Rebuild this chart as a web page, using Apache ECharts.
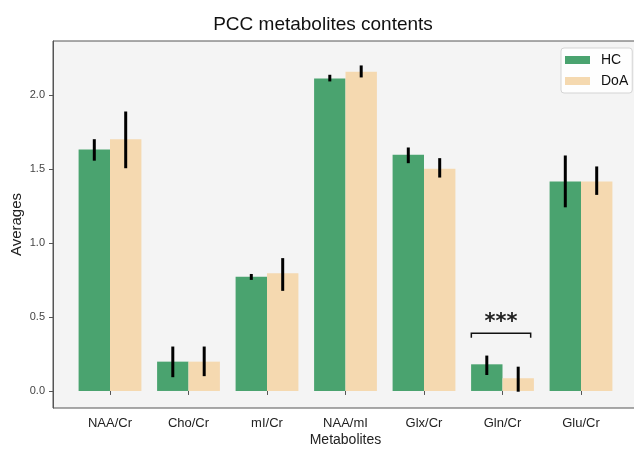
<!DOCTYPE html>
<html>
<head>
<meta charset="utf-8">
<script src="https://cdn.jsdelivr.net/npm/echarts@6/dist/echarts.min.js"></script>
<style>
html,body{margin:0;padding:0;background:#fff;}
#chart{width:634px;height:449px;}
</style>
</head>
<body>
<div id="chart"></div>
<script>
// ---- data ----
var categories = ['NAA/Cr', 'Cho/Cr', 'mI/Cr', 'NAA/mI', 'Glx/Cr', 'Gln/Cr', 'Glu/Cr'];
var hcValues  = [1.63, 0.198, 0.772, 2.11, 1.595, 0.18, 1.415];
var doaValues = [1.70, 0.198, 0.795, 2.155, 1.50, 0.086, 1.415];
var hcErrLow   = [1.555, 0.093, 0.75, 2.09, 1.538, 0.108, 1.24];
var hcErrHigh  = [1.70, 0.30, 0.79, 2.135, 1.644, 0.239, 1.59];
var doaErrLow  = [1.504, 0.10, 0.676, 2.117, 1.441, -0.005, 1.324];
var doaErrHigh = [1.887, 0.30, 0.897, 2.198, 1.572, 0.164, 1.516];
var yTicks = [0, 0.5, 1.0, 1.5, 2.0];
var sigCategory = 5;
var sigBracketY = 0.389;
var sigTickY = 0.36;
var sigLabelY = 0.492;
var sigLabel = '***';

var FONT = 'Liberation Sans';
var GREEN = '#4aa36f';
var WHEAT = '#f5d9b0';
var yMin = -0.115, yMax = 2.363;

function errData(lo, hi) {
  return lo.map(function (v, i) { return [i, v, hi[i]]; });
}
function errRender(offset) {
  return function (params, api) {
    var i = api.value(0);
    var p1 = api.coord([i, api.value(1)]);
    var p2 = api.coord([i, api.value(2)]);
    var bw = api.size([1, 0])[0];
    var x = p1[0] + offset * bw * 0.2;
    return {
      type: 'line',
      shape: { x1: x, y1: p1[1], x2: x, y2: p2[1] },
      style: { stroke: '#000', lineWidth: 3 }
    };
  };
}

var chart = echarts.init(document.getElementById('chart'), null, { renderer: 'canvas' });
chart.setOption({
  animation: false,
  backgroundColor: '#fff',
  textStyle: { fontFamily: FONT },
  title: {
    text: 'PCC metabolites contents',
    left: 323, top: 15, textAlign: 'center', padding: 0,
    textStyle: { fontFamily: FONT, fontSize: 19, fontWeight: 'normal', color: '#111' }
  },
  legend: {
    data: ['HC', 'DoA'],
    orient: 'vertical',
    left: 561, top: 48,
    itemWidth: 25, itemHeight: 8, itemGap: 7,
    icon: 'rect',
    padding: [5, 4, 5, 4],
    backgroundColor: 'rgba(255,255,255,0.85)',
    borderColor: '#d4d4d4', borderWidth: 1, borderRadius: 3,
    textStyle: { fontFamily: FONT, fontSize: 14, color: '#111', padding: [0, 0, 0, 6] }
  },
  grid: [
    { left: 53, top: 41, width: 585, height: 367, show: true, backgroundColor: '#f4f4f4',
      borderColor: '#555', borderWidth: 1, containLabel: false, outerBoundsMode: 'none' },
    { left: 70.75, top: 41, width: 549.5, height: 367, containLabel: false, outerBoundsMode: 'none' }
  ],
  xAxis: [
    { gridIndex: 0, type: 'value', min: 0, max: 1, show: false },
    { gridIndex: 1, type: 'category', data: categories,
      axisLine: { show: false },
      axisTick: { show: true, alignWithLabel: true, length: 4, lineStyle: { color: '#555' } },
      axisLabel: { fontFamily: FONT, fontSize: 13, color: '#222', margin: 9 },
      name: 'Metabolites', nameLocation: 'middle', nameGap: 25, nameMoveOverlap: false,
      nameTextStyle: { fontFamily: FONT, fontSize: 14, color: '#222' },
      splitLine: { show: false } }
  ],
  yAxis: [
    { gridIndex: 0, type: 'value', min: yMin, max: yMax,
      axisLine: { show: true, lineStyle: { color: '#555' } },
      axisTick: { show: true, length: 4, lineStyle: { color: '#555' }, customValues: yTicks },
      axisLabel: { fontFamily: FONT, fontSize: 11, color: '#444', margin: 8, customValues: yTicks,
        formatter: function (v) { return v.toFixed(1); } },
      splitLine: { show: false },
      name: 'Averages', nameLocation: 'middle', nameGap: 29, nameMoveOverlap: false,
      nameTextStyle: { fontFamily: FONT, fontSize: 15, color: '#222' } },
    { gridIndex: 1, type: 'value', min: yMin, max: yMax, show: false, splitLine: { show: false } }
  ],
  series: [
    { name: 'HC', type: 'bar', xAxisIndex: 1, yAxisIndex: 1, data: hcValues,
      barGap: '0%', barCategoryGap: '20%', itemStyle: { color: GREEN } },
    { name: 'DoA', type: 'bar', xAxisIndex: 1, yAxisIndex: 1, data: doaValues,
      barGap: '0%', barCategoryGap: '20%', itemStyle: { color: WHEAT } },
    { type: 'custom', xAxisIndex: 1, yAxisIndex: 1, data: errData(hcErrLow, hcErrHigh),
      renderItem: errRender(-1), z: 5, encode: { x: 0, y: [1, 2] } },
    { type: 'custom', xAxisIndex: 1, yAxisIndex: 1, data: errData(doaErrLow, doaErrHigh),
      renderItem: errRender(1), z: 5, encode: { x: 0, y: [1, 2] } },
    { type: 'custom', xAxisIndex: 1, yAxisIndex: 1,
      data: [[sigCategory, sigBracketY, sigTickY, sigLabelY]],
      encode: { x: 0, y: [1, 2, 3] }, z: 6,
      renderItem: function (params, api) {
        var i = api.value(0);
        var top = api.coord([i, api.value(1)]);
        var tick = api.coord([i, api.value(2)]);
        var lab = api.coord([i, api.value(3)]);
        var bw = api.size([1, 0])[0];
        var hw = bw * 0.378;
        var cx = top[0] - 1.5;
        return {
          type: 'group',
          children: [
            { type: 'polyline',
              shape: { points: [[cx - hw, tick[1]], [cx - hw, top[1]], [cx + hw, top[1]], [cx + hw, tick[1]]] },
              style: { stroke: '#111', lineWidth: 1.5, fill: null } },
            { type: 'text',
              style: { text: sigLabel, x: cx, y: lab[1] + 4, align: 'center', verticalAlign: 'middle',
                fontFamily: 'DejaVu Sans', fontSize: 21, fontWeight: 'bold', fill: '#222' } }
          ]
        };
      } }
  ]
});
</script>
</body>
</html>
